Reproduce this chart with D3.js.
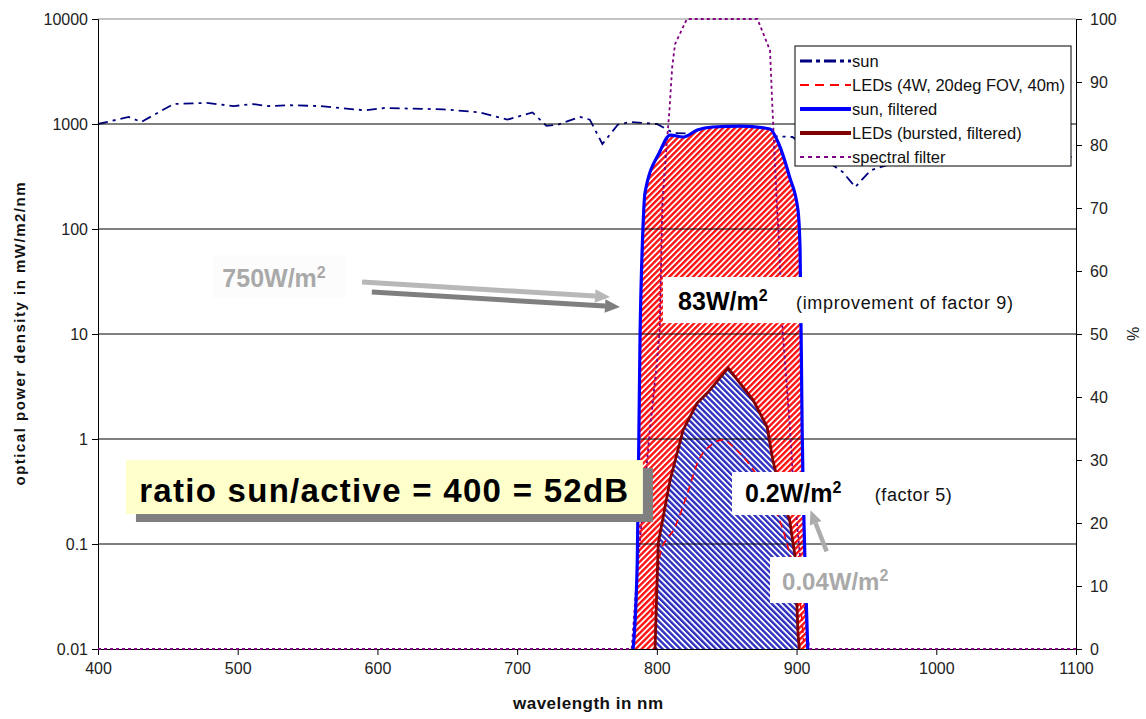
<!DOCTYPE html>
<html>
<head>
<meta charset="utf-8">
<script src="https://cdn.jsdelivr.net/npm/d3@7"></script>
<style>
  body { margin: 0; background: #fff; }
  svg { font-family: "Liberation Sans", Arial, sans-serif; }
</style>
</head>
<body>
<svg id="chart" width="1146" height="719"></svg>
<script>
// ---- data ----
const powerTicks = [0.01, 0.1, 1, 10, 100, 1000, 10000];
const wavelengthTicks = [400, 500, 600, 700, 800, 900, 1000, 1100];
const percentTicks = [0, 10, 20, 30, 40, 50, 60, 70, 80, 90, 100];

// sun spectrum, mW/m2/nm
const sun = [
  [400, 1000], [422, 1166], [431, 1045], [454, 1549], [478, 1590], [497, 1480],
  [511, 1549], [521, 1480], [538, 1510], [559, 1480], [591, 1350], [605, 1420],
  [647, 1380], [673, 1290], [693, 1100], [711, 1290], [721, 960], [729, 985],
  [745, 1170], [752, 1100], [761, 645], [772, 985], [781, 1045], [800, 1000],
  [812, 820], [850, 800], [897, 752], [933, 349], [942, 251], [953, 362],
  [990, 520], [1050, 490], [1100, 485]
];

// LEDs (4W, 20deg FOV, 40m)
const leds = [
  [796, 0.02], [800, 0.045], [802.5, 0.082], [813, 0.145], [822, 0.306],
  [829, 0.59], [839, 0.88], [847, 0.98], [857, 0.785], [869, 0.51],
  [883, 0.245], [895, 0.082], [902.5, 0.029], [905, 0.012]
];

// sun, filtered
const sunFiltered = [
  [783, 0.01], [786, 0.07], [788, 10.2], [790, 98], [791.5, 220], [802, 541],
  [809.5, 785], [819, 752], [829, 877], [840, 936], [860, 955], [881, 896],
  [887, 659], [895, 313], [901, 152], [902.5, 63], [904, 1.22], [906, 0.07],
  [908, 0.01]
];

// LEDs (bursted, filtered)
const ledsFiltered = [
  [798.7, 0.01], [801, 0.102], [809.5, 0.407], [818.8, 1.22], [828.8, 2.2],
  [836.7, 2.8], [851, 4.75], [868.9, 2.35], [878.9, 1.3], [883, 0.63],
  [890, 0.26], [895, 0.17], [899, 0.075], [901, 0.014], [902, 0.01]
];

// spectral filter transmission, %
const spectralFilter = [
  [400, 0], [782, 0], [786, 12.5], [795, 34.8], [800, 45.4], [802, 50.6],
  [804, 71], [807, 80], [809, 85.5], [811, 92.4], [813, 96], [821.5, 100],
  [872, 100], [881, 95], [882.5, 87], [886, 70], [887, 66.5], [890, 50.6],
  [895, 35.9], [897.5, 26.8], [908, 1.4], [909.5, 0], [1100, 0]
];

const legendItems = [
  { label: "sun", color: "#000080", width: 3, dash: "12,4,4,4" },
  { label: "LEDs (4W, 20deg FOV, 40m)", color: "#ff0000", width: 2, dash: "9,6" },
  { label: "sun, filtered", color: "#0000ff", width: 4, dash: null },
  { label: "LEDs (bursted, filtered)", color: "#800000", width: 4, dash: null },
  { label: "spectral filter", color: "#800080", width: 2, dash: "4,4" }
];

// ---- layout ----
const svg = d3.select("#chart");
const plotLeft = 98, plotRight = 1076, plotTop = 19, plotBottom = 649;

const x = d3.scaleLinear().domain([400, 1100]).range([plotLeft, plotRight]);
const y = d3.scaleLog().domain([0.01, 10000]).range([plotBottom, plotTop]);
const yr = d3.scaleLinear().domain([0, 100]).range([plotBottom, plotTop]);

svg.append("rect").attr("width", 1146).attr("height", 719).attr("fill", "#fff");

// hatch patterns
const defs = svg.append("defs");
function hatch(id, color, angle) {
  const p = defs.append("pattern")
    .attr("id", id)
    .attr("patternUnits", "userSpaceOnUse")
    .attr("width", 4.2).attr("height", 10)
    .attr("patternTransform", `rotate(${angle})`);
  p.append("rect").attr("width", 4.2).attr("height", 10).attr("fill", "#fff");
  p.append("rect").attr("width", 2.4).attr("height", 10).attr("fill", color);
}
hatch("redHatch", "#ff1414", 45);
hatch("blueHatch", "#3030c0", -45);

const line = d3.line().x(d => x(d[0])).y(d => y(d[1]));
const lineR = d3.line().x(d => x(d[0])).y(d => yr(d[1]));

// sun spectrum sits behind the filled areas
svg.append("path")
  .datum(sun)
  .attr("d", line.curve(d3.curveLinear))
  .attr("fill", "none")
  .attr("stroke", "#000080")
  .attr("stroke-width", 1.8)
  .attr("stroke-dasharray", "10,5,3,5");

// filled areas
const area = d3.area()
  .x(d => x(d[0]))
  .y0(y(0.01))
  .y1(d => y(d[1]));

svg.append("path")
  .datum(sunFiltered)
  .attr("d", area.curve(d3.curveMonotoneX))
  .attr("fill", "url(#redHatch)");

svg.append("path")
  .datum(ledsFiltered)
  .attr("d", area.curve(d3.curveLinear))
  .attr("fill", "url(#blueHatch)");

// gridlines
svg.selectAll(".grid")
  .data(powerTicks.slice(1))
  .enter()
  .append("line")
  .attr("class", "grid")
  .attr("x1", plotLeft).attr("x2", plotRight)
  .attr("y1", d => y(d)).attr("y2", d => y(d))
  .attr("stroke", d => d === 10000 ? "#888" : "#000")
  .attr("stroke-width", 1);

// axes
const yAxis = svg.append("g")
  .attr("transform", `translate(${plotLeft},0)`)
  .call(d3.axisLeft(y).tickValues(powerTicks).tickFormat(d => String(d)).tickSize(6).tickPadding(4));

const yrAxis = svg.append("g")
  .attr("transform", `translate(${plotRight},0)`)
  .call(d3.axisRight(yr).tickValues(percentTicks).tickSize(6).tickPadding(8));

const xAxis = svg.append("g")
  .attr("transform", `translate(0,${plotBottom})`)
  .call(d3.axisBottom(x).tickValues(wavelengthTicks).tickFormat(d3.format("d")).tickSize(6).tickPadding(8));

[yAxis, yrAxis, xAxis].forEach(g => {
  g.select(".domain").attr("stroke", "#000");
  g.selectAll(".tick line").attr("stroke", "#000");
  g.selectAll(".tick text")
    .attr("fill", "#222")
    .attr("font-size", 16)
    .attr("font-family", "Liberation Sans, Arial, sans-serif");
});

// axis titles
svg.append("text")
  .attr("x", 588)
  .attr("y", 709)
  .attr("text-anchor", "middle")
  .attr("font-size", 17)
  .attr("font-weight", "bold")
  .attr("fill", "#111")
  .attr("textLength", 150)
  .text("wavelength in nm");

svg.append("text")
  .attr("transform", `translate(25,334) rotate(-90)`)
  .attr("text-anchor", "middle")
  .attr("font-size", 15)
  .attr("font-weight", "bold")
  .attr("fill", "#111")
  .attr("textLength", 303)
  .text("optical power density in mW/m2/nm");

svg.append("text")
  .attr("transform", `translate(1139,334) rotate(-90)`)
  .attr("text-anchor", "middle")
  .attr("font-size", 16)
  .attr("fill", "#222")
  .text("%");

// lines over the fills
svg.append("path")
  .datum(leds)
  .attr("d", line.curve(d3.curveMonotoneX))
  .attr("fill", "none")
  .attr("stroke", "#ff0000")
  .attr("stroke-width", 1.6)
  .attr("stroke-dasharray", "7,5");

svg.append("path")
  .datum(spectralFilter)
  .attr("d", lineR)
  .attr("fill", "none")
  .attr("stroke", "#800080")
  .attr("stroke-width", 1.8)
  .attr("stroke-dasharray", "3,3");

svg.append("path")
  .datum(sunFiltered)
  .attr("d", line.curve(d3.curveMonotoneX))
  .attr("fill", "none")
  .attr("stroke", "#0000ff")
  .attr("stroke-width", 3.2);

svg.append("path")
  .datum(ledsFiltered)
  .attr("d", line.curve(d3.curveLinear))
  .attr("fill", "none")
  .attr("stroke", "#800000")
  .attr("stroke-width", 2.8);

// ---- annotations ----
function arrow(x1, y1, x2, y2, color, w, head) {
  const a = Math.atan2(y2 - y1, x2 - x1);
  const bx = x2 - head * Math.cos(a), by = y2 - head * Math.sin(a);
  const nx = -Math.sin(a) * head * 0.45, ny = Math.cos(a) * head * 0.45;
  svg.append("line")
    .attr("x1", x1).attr("y1", y1).attr("x2", bx).attr("y2", by)
    .attr("stroke", color).attr("stroke-width", w);
  svg.append("path")
    .attr("d", `M${x2},${y2}L${bx + nx},${by + ny}L${bx - nx},${by - ny}Z`)
    .attr("fill", color);
}

function label(xp, yp, big, size, color, supSize) {
  const t = svg.append("text")
    .attr("x", xp).attr("y", yp)
    .attr("font-size", size)
    .attr("font-weight", "bold")
    .attr("fill", color);
  t.append("tspan").text(big);
  t.append("tspan").attr("dy", -size * 0.38).attr("font-size", supSize).text("2");
  return t;
}

// 750 W/m2 and its arrows
svg.append("rect")
  .attr("x", x(482)).attr("y", y(56.5))
  .attr("width", x(577) - x(482)).attr("height", y(22) - y(56.5))
  .attr("fill", "#fcfcfc");
label(x(489), y(28), "750W/m", 25, "#a9a9a9", 16);
arrow(x(589), y(31.3), x(766.5), y(22.5), "#b8b8b8", 5, 15);
arrow(x(596), y(25.1), x(773.6), y(18.1), "#7f7f7f", 5, 15);

// 83 W/m2
svg.append("rect")
  .attr("x", x(804.4)).attr("y", y(34.9))
  .attr("width", x(1060) - x(804.4)).attr("height", y(12.7) - y(34.9))
  .attr("fill", "#fff");
label(x(815.2), y(16.9), "83W/m", 25, "#000", 16);
svg.append("text")
  .attr("x", x(899.6)).attr("y", y(17.2))
  .attr("font-size", 18)
  .attr("fill", "#111")
  .attr("textLength", 217)
  .text("(improvement of factor 9)");

// ratio box with shadow
const rx0 = x(420), rx1 = x(790), ry0 = y(0.63), ry1 = y(0.193);
svg.append("rect")
  .attr("x", rx0 + 10).attr("y", ry0 + 8)
  .attr("width", rx1 - rx0).attr("height", ry1 - ry0)
  .attr("fill", "#808080");
svg.append("rect")
  .attr("x", rx0).attr("y", ry0)
  .attr("width", rx1 - rx0).attr("height", ry1 - ry0)
  .attr("fill", "#ffffcc");
svg.append("text")
  .attr("x", x(429.5)).attr("y", y(0.251))
  .attr("font-size", 33)
  .attr("font-weight", "bold")
  .attr("fill", "#000")
  .attr("textLength", 489)
  .text("ratio sun/active = 400 = 52dB");

// 0.2 W/m2
svg.append("rect")
  .attr("x", x(853.8)).attr("y", y(0.485))
  .attr("width", x(1020) - x(853.8)).attr("height", y(0.189) - y(0.485))
  .attr("fill", "#fff");
label(x(863.1), y(0.251), "0.2W/m", 25, "#000", 16);
svg.append("text")
  .attr("x", x(956)).attr("y", y(0.255))
  .attr("font-size", 18)
  .attr("fill", "#111")
  .attr("textLength", 77)
  .text("(factor 5)");

// 0.04 W/m2
svg.append("rect")
  .attr("x", x(881)).attr("y", y(0.0752))
  .attr("width", x(977.6) - x(881)).attr("height", y(0.0274) - y(0.0752))
  .attr("fill", "#fff");
label(x(889.6), y(0.0365), "0.04W/m", 24, "#a9a9a9", 16);
arrow(x(921.5), y(0.085), x(910), y(0.21), "#acacac", 4.5, 14);

// ---- legend ----
const legend = svg.append("g").attr("transform", "translate(795,46)");
legend.append("rect")
  .attr("width", 276).attr("height", 120)
  .attr("fill", "#fff")
  .attr("stroke", "#000")
  .attr("stroke-width", 1);

const rows = legend.selectAll(".row")
  .data(legendItems)
  .enter()
  .append("g")
  .attr("class", "row")
  .attr("transform", (d, i) => `translate(0,${15 + i * 24})`);

rows.append("line")
  .attr("x1", 5).attr("x2", 56)
  .attr("stroke", d => d.color)
  .attr("stroke-width", d => d.width)
  .attr("stroke-dasharray", d => d.dash);

rows.append("text")
  .attr("x", 57).attr("y", 5.5)
  .attr("font-size", 16.5)
  .attr("fill", "#111")
  .text(d => d.label);
</script>
</body>
</html>
